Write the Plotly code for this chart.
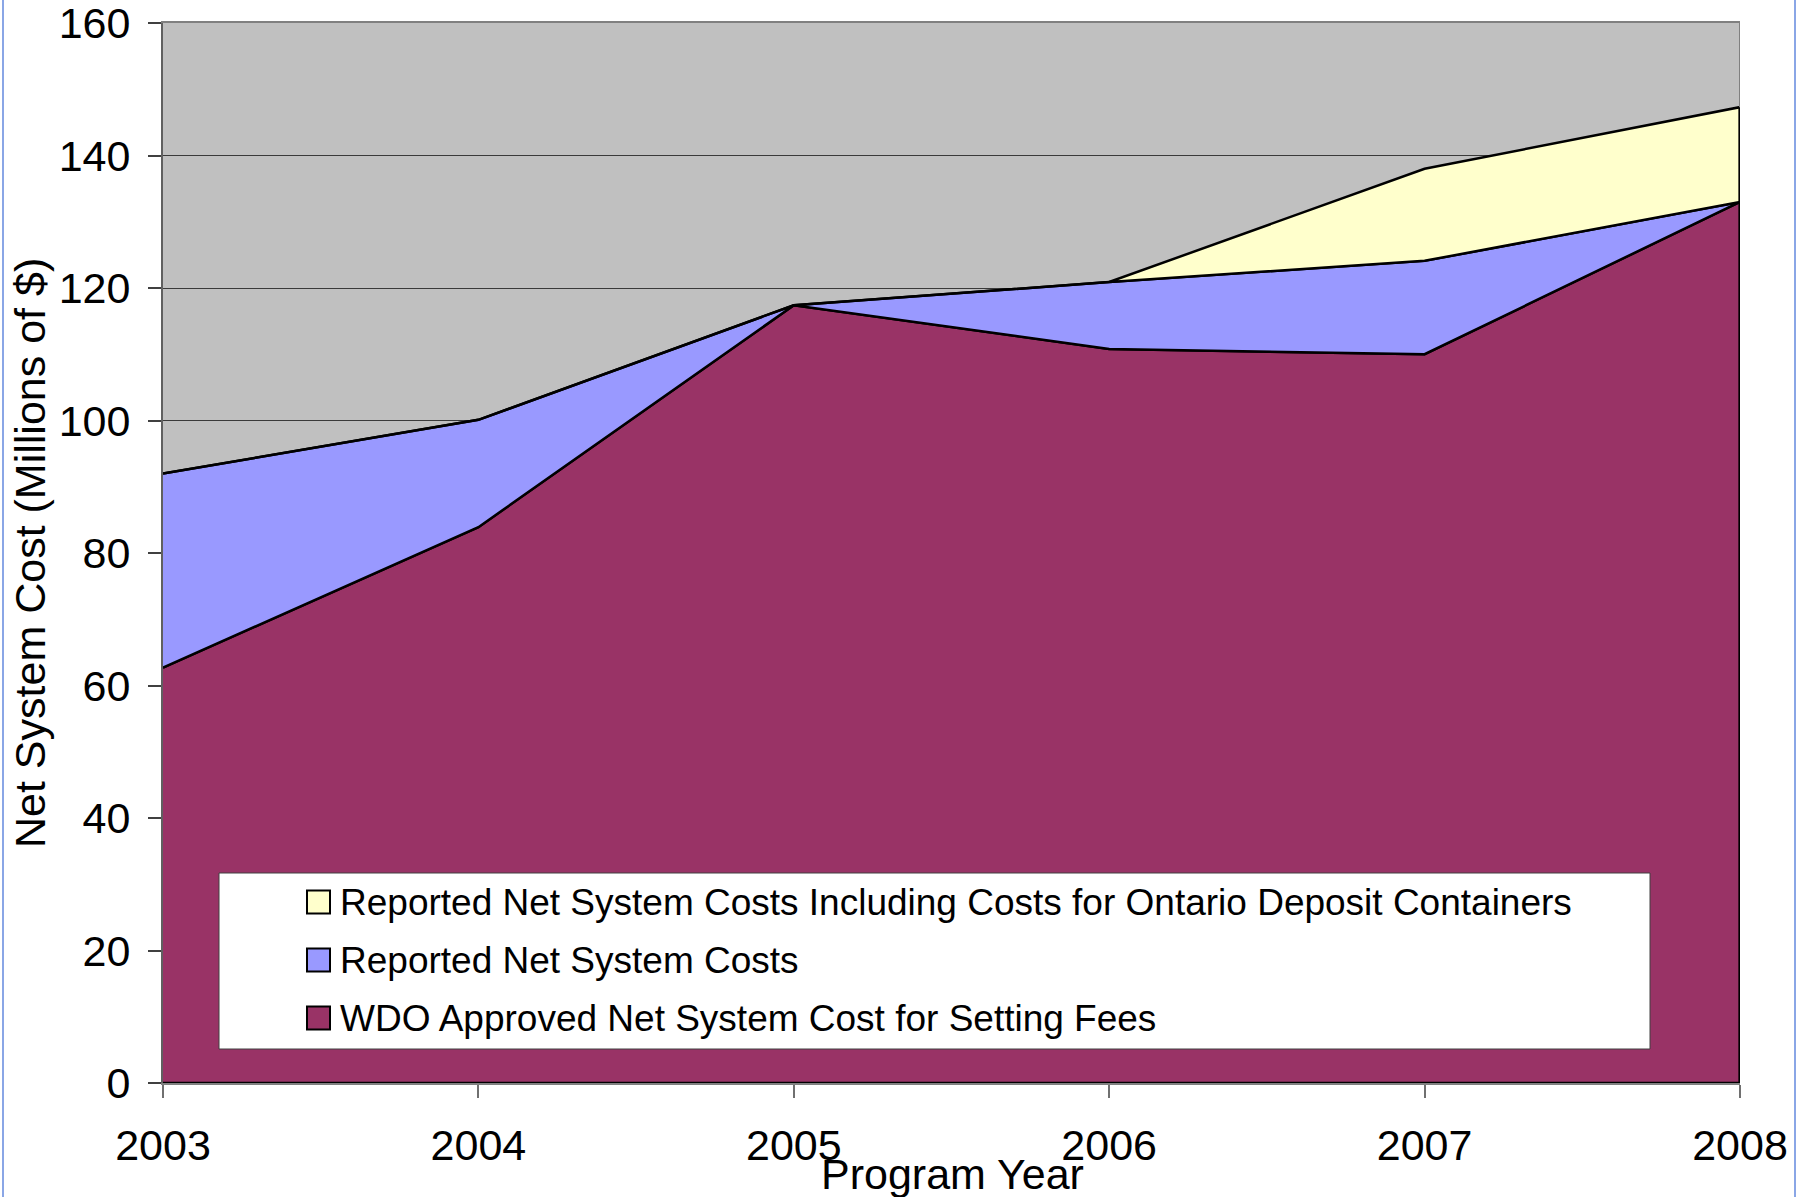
import plotly.graph_objects as go

# Program years and net system costs (millions of $)
years = [2003, 2004, 2005, 2006, 2007, 2008]
year_labels = ["2003", "2004", "2005", "2006", "2007", "2008"]
wdo_approved = [62.7, 83.9, 117.4, 110.8, 110.0, 133.0]
reported = [92.0, 100.1, 117.4, 120.9, 124.1, 133.0]
reported_incl_deposit = [92.0, 100.1, 117.4, 120.9, 138.0, 147.3]

series_names = [
    "Reported Net System Costs Including Costs for Ontario Deposit Containers",
    "Reported Net System Costs",
    "WDO Approved Net System Cost for Setting Fees",
]
series_colors = ["#FFFFCC", "#9999FF", "#993366"]

W, H = 1805, 1197
L, R, T, B = 163, 65, 23, 114
PW, PH = W - L - R, H - T - B


def px_x(px):
    return (px - L) / PW


def px_y(py):
    return (H - B - py) / PH


FONT = "Liberation Sans, Arial, sans-serif"

fig = go.Figure()

back = years[::-1]
bands = [
    (wdo_approved, [0] * len(years), series_colors[2], series_names[2]),
    (reported, wdo_approved[::-1], series_colors[1], series_names[1]),
    (reported_incl_deposit, reported[::-1], series_colors[0], series_names[0]),
]
for top, bottom_rev, color, name in bands:
    fig.add_trace(go.Scatter(
        x=years + back,
        y=top + bottom_rev,
        mode="lines",
        fill="toself",
        fillcolor=color,
        line=dict(color="black", width=2.5),
        name=name,
        showlegend=False,
        hoverinfo="skip",
    ))

shapes = []
# right edge of the stacked areas at the last year
shapes.append(dict(type="line", xref="x", yref="y",
                   x0=years[-1], x1=years[-1], y0=0, y1=reported_incl_deposit[-1],
                   line=dict(color="black", width=3), layer="above"))
# frame edge above the areas on the right
shapes.append(dict(type="line", xref="x", yref="y",
                   x0=years[-1], x1=years[-1], y0=reported_incl_deposit[-1], y1=160,
                   line=dict(color="#808080", width=2), layer="above"))

# slide border lines
for bx in (3, 1795):
    shapes.append(dict(type="line", xref="paper", yref="paper",
                       x0=px_x(bx), x1=px_x(bx), y0=px_y(H), y1=px_y(0),
                       line=dict(color="#8AA6E6", width=2), layer="above"))

# legend box
shapes.append(dict(type="rect", xref="paper", yref="paper",
                   x0=px_x(219), x1=px_x(1650), y0=px_y(1049), y1=px_y(873),
                   fillcolor="white", line=dict(color="#404040", width=1),
                   layer="above"))

annotations = []
row_centers = [902, 960, 1018]
for name, color, cy in zip(series_names, series_colors, row_centers):
    shapes.append(dict(type="rect", xref="paper", yref="paper",
                       x0=px_x(307), x1=px_x(330), y0=px_y(cy + 11.5), y1=px_y(cy - 11.5),
                       fillcolor=color, line=dict(color="black", width=2),
                       layer="above"))
    annotations.append(dict(xref="paper", yref="paper", x=px_x(338), y=px_y(cy),
                            xanchor="left", yanchor="middle", showarrow=False,
                            text=name, font=dict(family=FONT, size=37, color="black")))

# axis titles
annotations.append(dict(xref="paper", yref="paper", x=px_x(30), y=0.5,
                        xanchor="center", yanchor="middle", showarrow=False,
                        textangle=-90, text="Net System Cost (Millions of $)",
                        font=dict(family=FONT, size=43, color="black")))
annotations.append(dict(xref="paper", yref="paper", x=px_x(952), y=px_y(1174),
                        xanchor="center", yanchor="middle", showarrow=False,
                        text="Program Year",
                        font=dict(family=FONT, size=43, color="black")))

fig.update_layout(
    width=W, height=H,
    margin=dict(l=L, r=R, t=T, b=B, pad=0),
    paper_bgcolor="white",
    plot_bgcolor="#C0C0C0",
    showlegend=False,
    font=dict(family=FONT, color="black"),
    shapes=shapes,
    annotations=annotations,
    xaxis=dict(
        range=[years[0], years[-1]],
        tickvals=years, ticktext=year_labels,
        ticks="outside", ticklen=13, tickwidth=1.5, tickcolor="#707070",
        showgrid=False, zeroline=False,
        showline=True, linecolor="#808080", linewidth=2, mirror=True,
        tickfont=dict(family=FONT, size=43, color="black"),
        ticklabelstandoff=10,
        ticklabeloverflow="allow",
        automargin=False,
    ),
    yaxis=dict(
        range=[0, 160], dtick=20,
        ticks="outside", ticklen=13, tickwidth=1.5, tickcolor="#404040",
        showgrid=True, gridcolor="#3A3A3A", gridwidth=1,
        zeroline=False,
        showline=True, linecolor="#606060", linewidth=2,
        tickfont=dict(family=FONT, size=43, color="black"),
        ticklabelstandoff=9,
        ticklabeloverflow="allow",
        automargin=False,
    ),
)

fig.write_html("out.html")
